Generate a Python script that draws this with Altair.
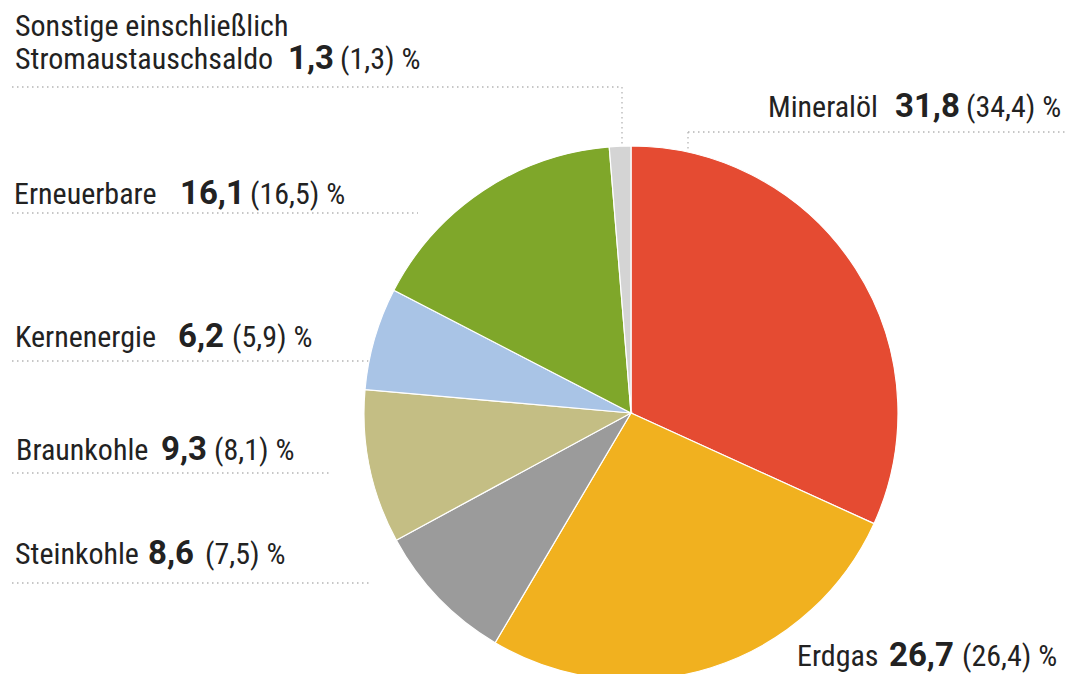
import altair as alt
import pandas as pd

# ---- data ----
categories = ["Mineralöl", "Erdgas", "Steinkohle", "Braunkohle", "Kernenergie", "Erneuerbare", "Sonstige"]
share_2017 = [31.8, 26.7, 8.6, 9.3, 6.2, 16.1, 1.3]
share_prev = [34.4, 26.4, 7.5, 8.1, 5.9, 16.5, 1.3]
label_names = ["Mineralöl", "Erdgas", "Steinkohle", "Braunkohle", "Kernenergie", "Erneuerbare", "Stromaustauschsaldo"]
colors = ["#E54B32", "#F1B11F", "#9B9B9B", "#C4BE84", "#A9C4E6", "#7FA72A", "#D4D4D4"]

def de(v):
    return f"{v:.1f}".replace(".", ",")

pie_df = pd.DataFrame({"cat": categories, "val": share_2017, "ord": list(range(len(categories)))})

# ---- layout (pixel positions of annotations, page coords) ----
OFF = 8
cx, cy, R = 631 - OFF, 413 - OFF, 267
lab_x = [768, 797, 15, 16, 15, 14, 15]
num_x = [895, 889, 148, 161, 178, 180, 288]
par_x = [966, 962, 205, 214, 232, 250, 340]
base_y = [117, 666, 564, 460, 347, 204, 69]

txt = pd.DataFrame({
    "name": label_names,
    "num": [de(v) for v in share_2017],
    "par": [f"({de(v)}) %" for v in share_prev],
    "lx": [v - OFF for v in lab_x],
    "nx": [v - OFF for v in num_x],
    "px": [v - OFF for v in par_x],
    "y": [v - OFF for v in base_y],
})
extra = pd.DataFrame({"name": ["Sonstige einschließlich"], "lx": [15 - OFF], "y": [36 - OFF]})

# leader lines (x, x2, y, y2)
lines = pd.DataFrame({
    "x": [12, 622, 688, 688, 12, 12, 12, 12],
    "x2": [622, 622, 1068, 688, 418, 415, 330, 370],
    "y": [87, 87, 132, 132, 213, 361, 473, 583],
    "y2": [87, 152, 132, 165, 213, 361, 473, 583],
})
for c in lines.columns:
    lines[c] = lines[c] - OFF

FONT = "Roboto Condensed, Roboto, sans-serif"
BFONT = "Roboto, sans-serif"
FS = 30
TC = "#222222"

pie = alt.Chart(pie_df).mark_arc(outerRadius=R, stroke="white", strokeWidth=1.2).encode(
    theta=alt.Theta("val:Q", stack=True),
    color=alt.Color("cat:N", scale=alt.Scale(domain=categories, range=colors), legend=None),
    order=alt.Order("ord:Q"),
    x=alt.value(cx),
    y=alt.value(cy),
)

rules = alt.Chart(lines).mark_rule(color="#B5B5B5", strokeDash=[1.5, 3.5], strokeWidth=1.3).encode(
    x=alt.X("x:Q", scale=None), x2="x2:Q",
    y=alt.Y("y:Q", scale=None), y2="y2:Q",
)

names = alt.Chart(txt).mark_text(align="left", baseline="alphabetic", font=FONT, fontSize=FS, color=TC).encode(
    x=alt.X("lx:Q", scale=None), y=alt.Y("y:Q", scale=None), text="name:N")
names2 = alt.Chart(extra).mark_text(align="left", baseline="alphabetic", font=FONT, fontSize=FS, color=TC).encode(
    x=alt.X("lx:Q", scale=None), y=alt.Y("y:Q", scale=None), text="name:N")
nums = alt.Chart(txt).mark_text(align="left", baseline="alphabetic", font=BFONT, fontWeight="bold", fontSize=33, color=TC).encode(
    x=alt.X("nx:Q", scale=None), y=alt.Y("y:Q", scale=None), text="num:N")
pars = alt.Chart(txt).mark_text(align="left", baseline="alphabetic", font=FONT, fontSize=FS, color=TC).encode(
    x=alt.X("px:Q", scale=None), y=alt.Y("y:Q", scale=None), text="par:N")

chart = alt.layer(rules, pie, names, names2, nums, pars).properties(
    width=1057, height=666, autosize=alt.AutoSizeParams(type="none"), padding=0,
).configure_view(strokeWidth=0)

chart.save("out.html", embed_options={"renderer": "svg", "actions": False})
